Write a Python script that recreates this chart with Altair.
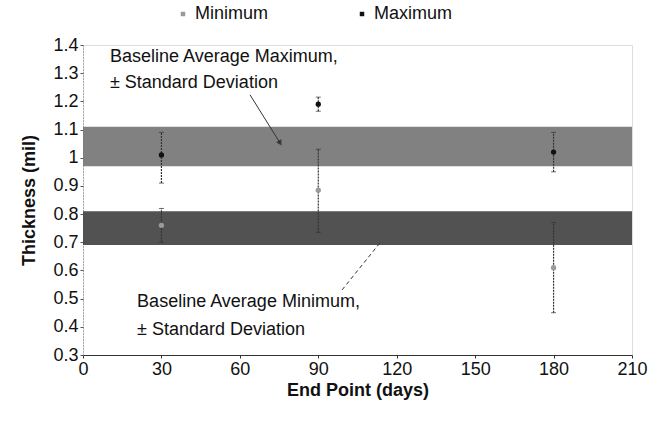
import altair as alt
import pandas as pd

# ---- data ----
days = [30, 90, 180]
max_vals = [1.01, 1.19, 1.02]
max_lo = [0.91, 1.165, 0.95]
max_hi = [1.09, 1.215, 1.09]
min_vals = [0.76, 0.885, 0.61]
min_lo = [0.70, 0.735, 0.45]
min_hi = [0.82, 1.03, 0.77]

band_names = ["Baseline Average Maximum", "Baseline Average Minimum"]
band_lo = [0.97, 0.69]
band_hi = [1.11, 0.81]
band_colors = ["#7a7a7a", "#494949"]

note_lines = ["Baseline Average Maximum,", "± Standard Deviation",
              "Baseline Average Minimum,", "± Standard Deviation"]
note_x = [10.3, 10.3, 20.7, 20.7]
note_y = [1.357, 1.265, 0.488, 0.389]

leader_x = [63.9, 99.1]
leader_y = [1.223, 0.531]
leader_x2 = [75.4, 113.6]
leader_y2 = [1.052, 0.698]
leader_dash = ["solid", "dashed"]

x_ticks = [0, 30, 60, 90, 120, 150, 180, 210]
y_ticks = [0.3, 0.4, 0.5, 0.6, 0.7, 0.8, 0.9, 1.0, 1.1, 1.2, 1.3, 1.4]

FONT = "Liberation Sans"
SERIES = ["Minimum", "Maximum"]

pts = pd.DataFrame({
    "day": days * 2,
    "value": max_vals + min_vals,
    "lo": max_lo + min_lo,
    "hi": max_hi + min_hi,
    "series": ["Maximum"] * 3 + ["Minimum"] * 3,
})
bands = pd.DataFrame({"name": band_names, "lo": band_lo, "hi": band_hi,
                      "x0": [0, 0], "x1": [210, 210], "col": band_colors})
notes = pd.DataFrame({"text": note_lines, "x": note_x, "y": note_y})
leaders = pd.DataFrame({"x": leader_x, "y": leader_y, "x2": leader_x2,
                        "y2": leader_y2, "style": leader_dash})

xscale = alt.Scale(domain=[0, 210], nice=False)
yscale = alt.Scale(domain=[0.3, 1.4], nice=False)

xaxis = alt.Axis(values=x_ticks, title="End Point (days)", grid=False,
                 labelFontSize=18, titleFontSize=18, titleFontWeight="bold",
                 labelColor="#111", titleColor="#111", domainColor="#333",
                 tickColor="#333", tickSize=3, labelPadding=2, titlePadding=3,
                 labelFlush=False, labelOverlap=False)
yaxis = alt.Axis(values=y_ticks, title="Thickness (mil)", grid=False,
                 format="~g", labelFontSize=18, titleFontSize=18,
                 titleFontWeight="bold", labelColor="#111", titleColor="#111",
                 domainColor="#777", domainDash=[1, 2], tickColor="#555",
                 tickSize=3, labelPadding=2, titlePadding=14, labelFlush=False,
                 labelOverlap=False)

X = lambda f: alt.X(f, scale=xscale, axis=xaxis)
Y = lambda f: alt.Y(f, scale=yscale, axis=yaxis)

band_layer = alt.Chart(bands).mark_rect(opacity=0.95).encode(
    x=X("x0:Q"),
    x2="x1:Q",
    y=Y("lo:Q"),
    y2="hi:Q",
    fill=alt.Fill("col:N", scale=None, legend=None),
)

err_layer = alt.Chart(pts).mark_rule(color="#333", strokeWidth=1.2,
                                     strokeDash=[2, 1]).encode(
    x=X("day:Q"), y=Y("lo:Q"), y2="hi:Q")

cap_lo = alt.Chart(pts).mark_tick(color="#333", orient="horizontal",
                                  size=5, thickness=1).encode(
    x=X("day:Q"), y=Y("lo:Q"))
cap_hi = alt.Chart(pts).mark_tick(color="#333", orient="horizontal",
                                  size=5, thickness=1).encode(
    x=X("day:Q"), y=Y("hi:Q"))

point_layer = alt.Chart(pts).mark_point(strokeWidth=1.2, opacity=1,
                                        filled=True).encode(
    x=X("day:Q"),
    y=Y("value:Q"),
    color=alt.Color("series:N",
                    scale=alt.Scale(domain=SERIES, range=["#9a9a9a", "#111111"]),
                    legend=alt.Legend(title=None, orient="none", legendX=91,
                                      legendY=-40, direction="horizontal",
                                      columnPadding=84, labelFontSize=18,
                                      labelColor="#111", symbolSize=20,
                                      symbolType="square", labelOffset=3,
                                      labelFont=FONT)),
    size=alt.value(28),
)

text_layer = alt.Chart(notes).mark_text(align="left", baseline="middle",
                                        fontSize=18, color="#111",
                                        font=FONT).encode(
    x=X("x:Q"), y=Y("y:Q"), text="text:N")

leader_solid = alt.Chart(leaders[leaders["style"] == "solid"]).mark_rule(
    color="#333", strokeWidth=1).encode(x=X("x:Q"), y=Y("y:Q"), x2="x2:Q", y2="y2:Q")
leader_dashed = alt.Chart(leaders[leaders["style"] == "dashed"]).mark_rule(
    color="#333", strokeWidth=1, strokeDash=[4, 3]).encode(
    x=X("x:Q"), y=Y("y:Q"), x2="x2:Q", y2="y2:Q")
arrow_head = alt.Chart(leaders[leaders["style"] == "solid"]).mark_point(
    shape="triangle-down", filled=True, color="#222", size=40,
    angle=330).encode(x=X("x2:Q"), y=Y("y2:Q"))

chart = alt.layer(band_layer, err_layer, cap_lo, cap_hi, leader_solid,
                  leader_dashed, arrow_head, point_layer, text_layer).properties(
    width=549, height=310,
    autosize=alt.AutoSizeParams(type="none"),
    padding={"left": 83, "top": 45, "right": 29, "bottom": 66},
    background="white",
).configure_view(stroke="#444", strokeWidth=1).configure(
    font=FONT
).configure_axis(labelFont=FONT, titleFont=FONT, labelOverlap=False)

chart.save("out.html", embed_options={"renderer": "svg", "actions": False})
